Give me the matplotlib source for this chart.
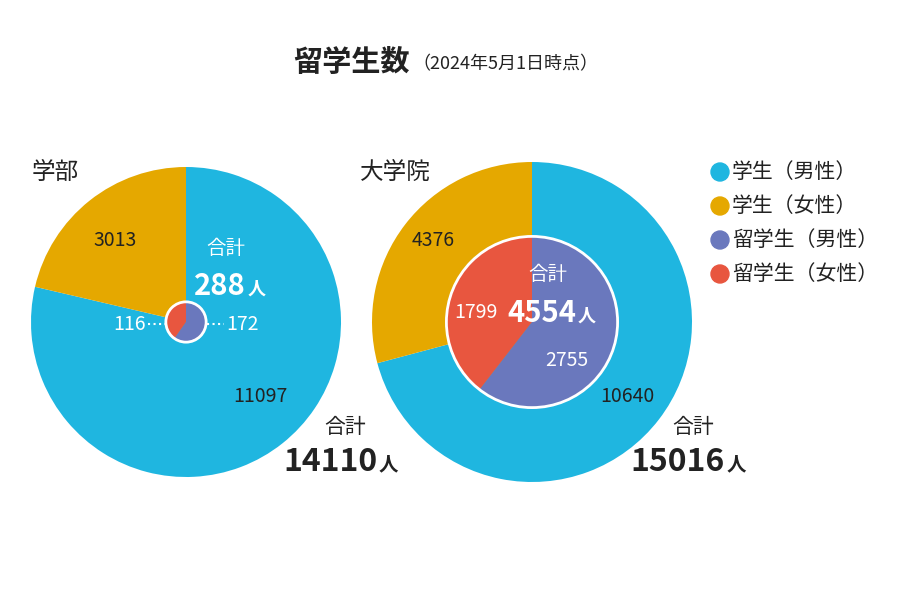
import matplotlib
matplotlib.use("Agg")
import matplotlib.pyplot as plt
from matplotlib.patches import Ellipse

plt.rcParams["font.family"] = "Noto Sans CJK JP"

title = "留学生数"
subtitle = "（2024年5月1日時点）"
legend_labels = ["学生（男性）", "学生（女性）", "留学生（男性）", "留学生（女性）"]
colors = ["#1fb6e0", "#e5a800", "#6a78bd", "#e8563f"]

ug_students = [11097, 3013]
ug_intl = [172, 116]
grad_students = [10640, 4376]
grad_intl = [2755, 1799]

W, H = 900, 600
fig = plt.figure(figsize=(9, 6), dpi=100)

def px(x, y):
    return x / W, 1 - y / H

def pie_axes(cx, cy, r):
    ax = fig.add_axes([(cx - r) / W, (H - cy - r) / H, 2 * r / W, 2 * r / H])
    ax.set_xlim(-1, 1); ax.set_ylim(-1, 1); ax.set_aspect("equal"); ax.axis("off")
    return ax

def draw(ax, outer, inner, rin):
    ax.pie(outer, colors=colors[:2], startangle=90, counterclock=False, radius=1,
           wedgeprops=dict(linewidth=0))
    ax.pie(inner, colors=colors[2:], startangle=90, counterclock=False, radius=rin,
           wedgeprops=dict(linewidth=0))
    ax.add_patch(plt.Circle((0, 0), rin, fill=False, ec="white", lw=2))
    ax.set_xlim(-1, 1); ax.set_ylim(-1, 1)

axL = pie_axes(186, 322, 155)
draw(axL, ug_students, ug_intl, 0.13)
axR = pie_axes(532, 322, 160)
draw(axR, grad_students, grad_intl, 0.535)

def t(x, y, s, **kw):
    fig.text(*px(x, y), s, **kw)

t(410, 62, title, fontsize=21, fontweight="bold", ha="right", va="center", color="#222")
t(412, 64, subtitle, fontsize=13, ha="left", va="center", color="#222")
t(32, 172, "学部", fontsize=17, va="center", color="#222")
t(360, 172, "大学院", fontsize=17, va="center", color="#222")

def total(xr, y, value, size, col, ksize):
    t(xr, y, f"{value}", fontsize=size, fontweight="bold", ha="right", va="center", color=col)
    t(xr + 2, y + 3, "人", fontsize=ksize, fontweight="bold", ha="left", va="center", color=col)

# left labels
t(115, 240, f"{ug_students[1]}", fontsize=14, ha="center", va="center", color="#222")
t(260, 397, f"{ug_students[0]}", fontsize=14, ha="center", va="center", color="#222")
t(226, 248, "合計", fontsize=14, ha="center", va="center", color="white")
total(246, 286, sum(ug_intl), 21, "white", 13)
t(130, 325, f"{ug_intl[1]}", fontsize=14, ha="center", va="center", color="white")
t(242, 325, f"{ug_intl[0]}", fontsize=14, ha="center", va="center", color="white")
fig.add_artist(plt.Line2D([px(148, 0)[0], px(166, 0)[0]], [px(0, 324)[1]] * 2, color="white", lw=1.5, ls=":"))
fig.add_artist(plt.Line2D([px(207, 0)[0], px(224, 0)[0]], [px(0, 324)[1]] * 2, color="white", lw=1.5, ls=":"))
t(345, 427, "合計", fontsize=15, ha="center", va="center", color="#222")
total(377, 462, sum(ug_students), 23, "#222", 14)

# right labels
t(433, 241, f"{grad_students[1]}", fontsize=14, ha="center", va="center", color="#222")
t(627, 397, f"{grad_students[0]}", fontsize=14, ha="center", va="center", color="#222")
t(548, 275, "合計", fontsize=14, ha="center", va="center", color="white")
total(576, 313, sum(grad_intl), 21, "white", 13)
t(476, 313, f"{grad_intl[1]}", fontsize=14, ha="center", va="center", color="white")
t(567, 360, f"{grad_intl[0]}", fontsize=14, ha="center", va="center", color="white")
t(693, 427, "合計", fontsize=15, ha="center", va="center", color="#222")
total(725, 462, sum(grad_students), 23, "#222", 14)

# legend
for i, (lab, col) in enumerate(zip(legend_labels, colors)):
    y = 172 + i * 34
    fig.add_artist(Ellipse(px(720, y), 18 / W, 18 / H, transform=fig.transFigure, color=col))
    t(732, y, lab, fontsize=15, va="center", color="#222")

fig.savefig("out.png", dpi=100, facecolor="white")
